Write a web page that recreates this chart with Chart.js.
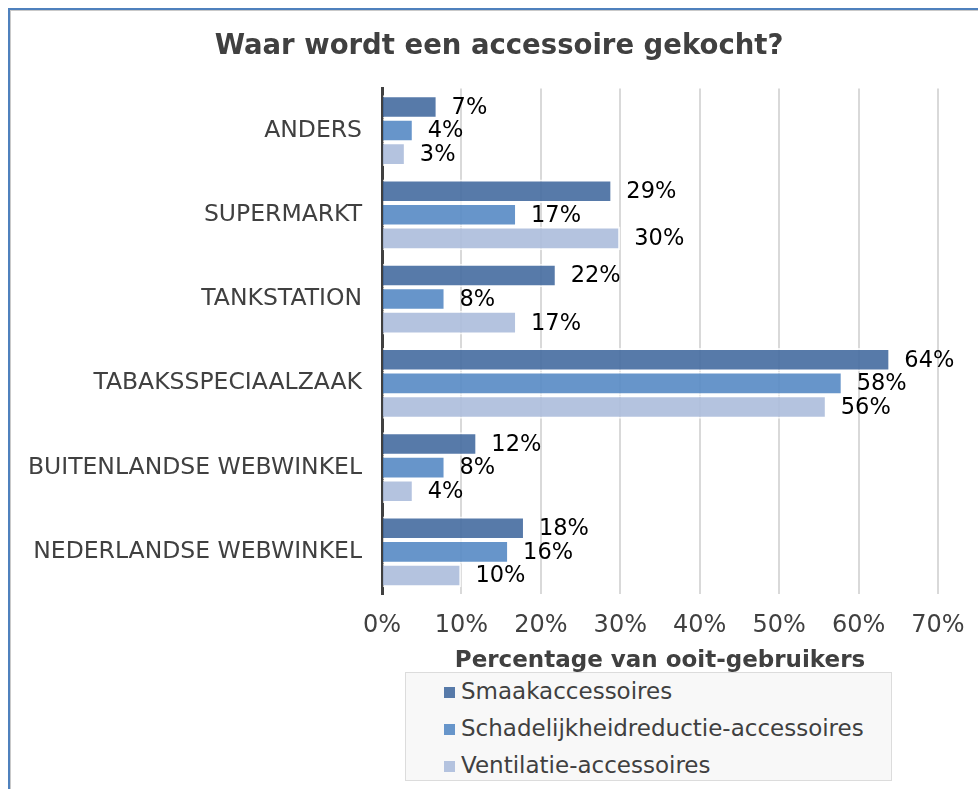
<!DOCTYPE html>
<html>
<head>
<meta charset="utf-8">
<script src="https://cdn.jsdelivr.net/npm/chart.js@4/dist/chart.umd.min.js"></script>
<style>
  html, body { margin: 0; padding: 0; background: #fff; overflow: hidden; width: 978px; height: 789px; }
  .frame { position: absolute; left: 8px; top: 8px; width: 1000px; height: 800px;
           border-top: 2px solid #4f81bd; border-left: 2px solid #4f81bd; }
  .inner { position: absolute; left: 0; top: 0; right: 0; bottom: 0;
           border-top: 1px solid #c9c9c9; border-left: 1px solid #c9c9c9; }
  #wrap { position: absolute; left: 11px; top: 11px; width: 976px; height: 778px; }
  .legend { position: absolute; left: 405px; top: 672px; width: 487px; height: 109px;
            background: #f8f8f8; border: 1px solid #dcdcdc; box-sizing: border-box;
            font-family: 'DejaVu Sans', sans-serif; font-size: 23px; color: #404040; }
  .legend .item { position: absolute; left: 38px; height: 30px; line-height: 30px; white-space: nowrap; }
  .legend .sw { display: inline-block; width: 11px; height: 11px; margin-right: 6px; vertical-align: 1px; }
</style>
</head>
<body>
<div class="frame"><div class="inner"></div></div>
<div id="wrap"><canvas id="chart" width="976" height="778"></canvas></div>
<div class="legend" id="legend"></div>
<script>
// ── DATA ─────────────────────────────────────────────────────────────────────
const categories  = ['ANDERS', 'SUPERMARKT', 'TANKSTATION', 'TABAKSSPECIAALZAAK', 'BUITENLANDSE WEBWINKEL', 'NEDERLANDSE WEBWINKEL'];
const smaak       = [7, 29, 22, 64, 12, 18];
const schadelijk  = [4, 17, 8, 58, 8, 16];
const ventilatie  = [3, 30, 17, 56, 4, 10];
const seriesNames = ['Smaakaccessoires', 'Schadelijkheidreductie-accessoires', 'Ventilatie-accessoires'];
const xTicks      = [0, 10, 20, 30, 40, 50, 60, 70];

const COLORS = ['rgba(69,108,160,0.9)', 'rgba(86,137,196,0.9)', 'rgba(172,189,219,0.9)'];
const FONT   = 'DejaVu Sans';
const TEXT   = '#404040';

// ── DATA LABELS ──────────────────────────────────────────────────────────────
const barLabels = {
  id: 'barLabels',
  afterDatasetsDraw(chart) {
    const ctx = chart.ctx;
    ctx.save();
    ctx.font = `22.5px ${FONT}`;
    ctx.fillStyle = '#000';
    ctx.textAlign = 'left';
    ctx.textBaseline = 'middle';
    chart.data.datasets.forEach((ds, i) => {
      chart.getDatasetMeta(i).data.forEach((bar, j) => {
        ctx.fillText(ds.data[j] + '%', bar.x + 14, bar.y + 1);
      });
    });
    ctx.restore();
  }
};

const datasets = [smaak, schadelijk, ventilatie].map((d, i) => ({
  label: seriesNames[i],
  data: d,
  backgroundColor: COLORS[i],
  borderColor: 'rgba(255,255,255,0.75)',
  borderWidth: 2,
  categoryPercentage: 0.84,
  barPercentage: 1.0,
}));

new Chart(document.getElementById('chart'), {
  type: 'bar',
  data: { labels: categories, datasets },
  plugins: [barLabels],
  options: {
    indexAxis: 'y',
    responsive: false,
    animation: false,
    layout: { padding: { left: 0, right: 0, top: 0, bottom: 105 } },
    plugins: {
      legend: { display: false },
      tooltip: { enabled: false },
      title: {
        display: true,
        text: 'Waar wordt een accessoire gekocht?',
        color: TEXT,
        font: { family: FONT, size: 27.5, weight: 'bold' },
        padding: { top: 19, bottom: 25.4 },
      },
    },
    scales: {
      x: {
        min: 0, max: 70,
        afterBuildTicks: s => { s.ticks = xTicks.map(v => ({ value: v })); },
        afterFit: s => { s.height = 90; },
        grid: { color: '#d9d9d9', lineWidth: 2, drawTicks: false },
        border: { display: false },
        ticks: { color: TEXT, padding: 17, font: { family: FONT, size: 24 }, callback: v => v + '%' },
        title: {
          display: true,
          text: 'Percentage van ooit-gebruikers',
          color: TEXT,
          font: { family: FONT, size: 23, weight: 'bold' },
          padding: { top: 4, bottom: 9 },
        },
      },
      y: {
        afterFit: s => { s.width = 371; },
        grid: { display: false, drawTicks: false },
        border: { display: true, color: '#404040', width: 3 },
        ticks: { color: TEXT, padding: 20, font: { family: FONT, size: 23.5 } },
      },
      // empty right-hand axis: keeps the plot's right edge and centres the title
      yRight: {
        position: 'right',
        afterFit: s => { s.width = 49; },
        grid: { display: false, drawTicks: false },
        border: { display: false },
        ticks: { display: false },
      },
    },
  },
});

// ── LEGEND ───────────────────────────────────────────────────────────────────
const legend = document.getElementById('legend');
legend.innerHTML = seriesNames.map((n, i) =>
  `<div class="item" style="top:${3 + i * 37}px"><span class="sw" style="background:${COLORS[i]}"></span>${n}</div>`
).join('');
</script>
</body>
</html>
